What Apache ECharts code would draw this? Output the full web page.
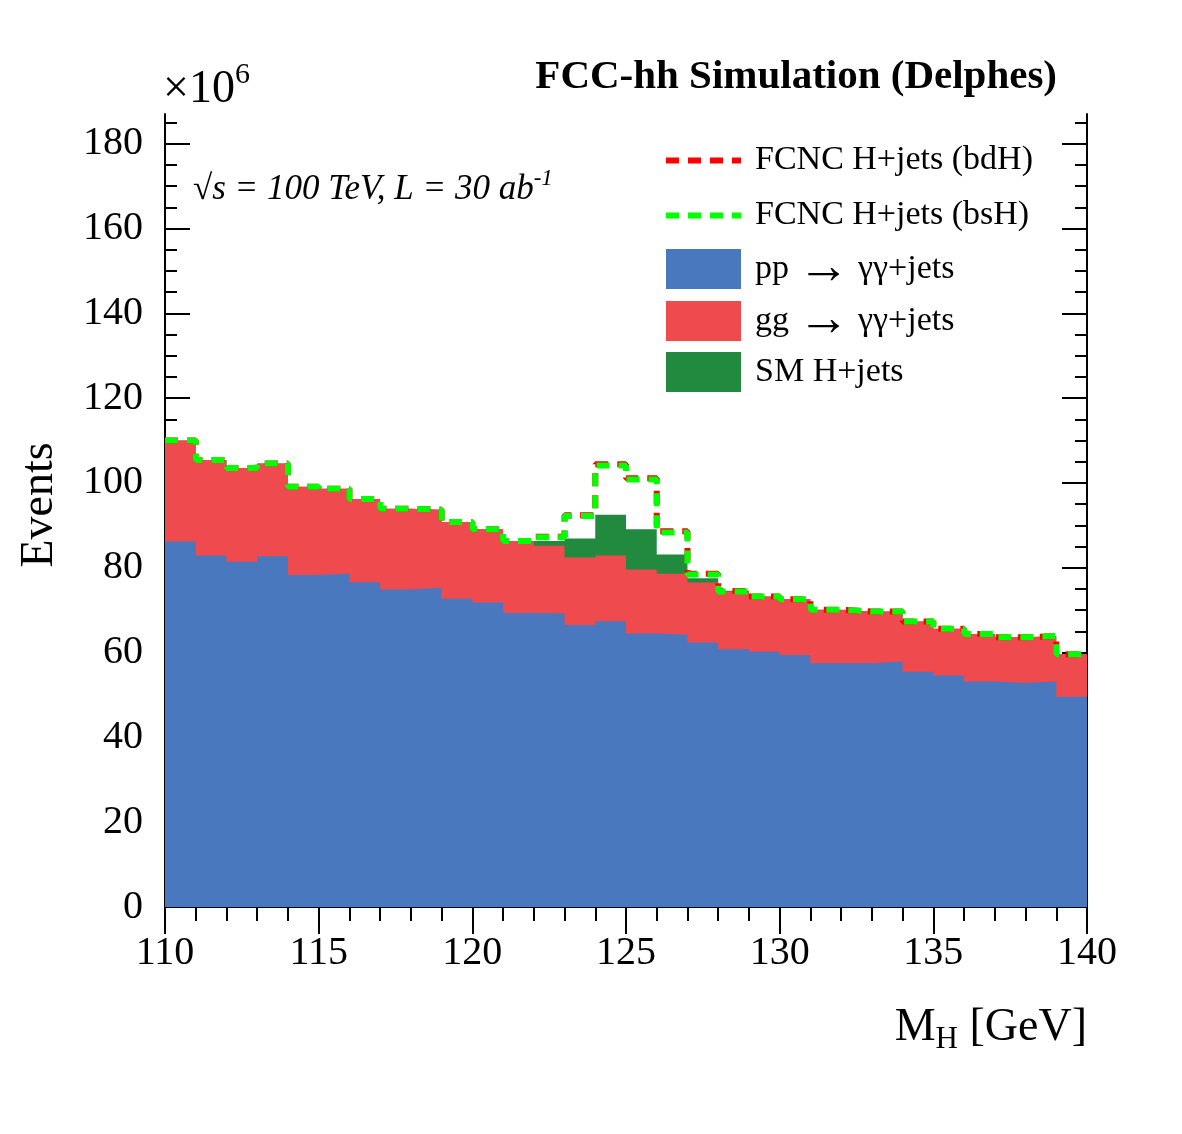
<!DOCTYPE html>
<html>
<head>
<meta charset="UTF-8">
<script src="https://cdn.jsdelivr.net/npm/echarts@6/dist/echarts.min.js"></script>
<style>
  html, body { margin: 0; padding: 0; background: #fff; }
  #main { width: 1182px; height: 1134px; }
</style>
</head>
<body>
<div id="main"></div>
<script>
// bin low edges (1 GeV bins from 110 to 140), values in units of 10^6 events
var binLow = [110,111,112,113,114,115,116,117,118,119,120,121,122,123,124,125,126,127,128,129,130,131,132,133,134,135,136,137,138,139];
var binHigh = 140;
var ppYY = [86.2,82.9,81.4,82.7,78.3,78.6,76.6,74.9,75.3,72.7,71.8,69.3,69.2,66.5,67.4,64.5,64.2,62.4,60.8,60.2,59.4,57.5,57.5,57.9,55.5,54.6,53.2,52.8,53.2,49.6];
var ggYY = [23.8,22.5,22.1,21.9,20.8,20.0,19.6,19.0,18.4,18.1,17.3,17.0,16.0,15.9,15.5,15.1,14.4,14.1,13.6,13.0,13.2,12.6,12.2,11.8,11.8,11.0,11.2,10.8,10.7,10.0];
var smH  = [0,0,0,0,0,0,0,0,0,0,0,0,1.1,4.5,9.6,9.5,4.5,1.0,0.2,0,0,0,0,0,0,0,0,0,0,0];
// dashed totals (background + FCNC signal)
var fcncBdH = [110.0,105.4,103.5,104.6,99.1,98.6,96.2,93.9,93.7,90.8,89.1,86.3,87.3,92.4,104.4,101.1,88.6,78.6,74.5,73.2,72.6,70.1,69.7,69.7,67.3,65.6,64.4,63.6,63.9,59.6];
var fcncBsH = [110.0,105.4,103.5,104.6,99.1,98.6,96.2,93.9,93.7,90.8,89.1,86.3,87.2,92.2,104.1,100.8,88.3,78.4,74.4,73.2,72.6,70.1,69.7,69.7,67.3,65.6,64.4,63.6,63.9,59.6];

var SERIF = "'Liberation Serif', 'DejaVu Serif', serif";
var DASH = [13, 9];

// histogram as step points: each bin low edge, plus closing edge
function hist(vals) {
    var pts = binLow.map(function (x, i) { return [x, vals[i]]; });
    pts.push([binHigh, vals[vals.length - 1]]);
    return pts;
}
function cumsum() {
    var arrs = arguments;
    return binLow.map(function (x, i) {
        var s = 0;
        for (var k = 0; k < arrs.length; k++) s += arrs[k][i];
        return +s.toFixed(2);
    });
}

var tot1 = ppYY;
var tot2 = cumsum(ppYY, ggYY);
var tot3 = cumsum(ppYY, ggYY, smH);

var yMajor = [], yMinor = [];
for (var v = 0; v <= 185; v += 5) {
    yMinor.push(v);
    if (v % 20 === 0) yMajor.push(v);
}

function areaSeries(name, data, color) {
    return {
        name: name, type: 'line', step: 'end', symbol: 'none',
        data: hist(data), color: color,
        lineStyle: { width: 0 },
        areaStyle: { color: color, opacity: 1 },
        itemStyle: { color: color },
        animation: false
    };
}
function dashSeries(name, data, color) {
    return {
        name: name, type: 'line', step: 'end', symbol: 'none',
        data: hist(data), color: color,
        lineStyle: { width: 6, type: DASH, color: color },
        itemStyle: { color: color },
        animation: false
    };
}

var chart = echarts.init(document.getElementById('main'));
chart.setOption({
    backgroundColor: '#fff',
    animation: false,
    grid: { left: 165, right: 95, top: 114, bottom: 227 },
    legend: {
        orient: 'vertical', left: 663, top: 133, padding: 0,
        itemWidth: 75, itemHeight: 40, itemGap: 0,
        textStyle: {
            fontFamily: SERIF, fontSize: 34, color: '#000', padding: [0, 0, 0, 9], lineHeight: 52,
            rich: {
                t: { fontFamily: SERIF, fontSize: 34, color: '#000', lineHeight: 52 },
                r: { fontFamily: SERIF, fontSize: 52, color: '#000', lineHeight: 52 }
            }
        },
        formatter: function (name) {
            var parts = name.split(/\s+→\s+/);
            if (parts.length < 2) return name;
            return '{t|' + parts[0] + ' }{r|→}{t| ' + parts[1] + '}';
        },
        data: [
            { name: 'FCNC H+jets (bdH)', itemStyle: { opacity: 0 }, lineStyle: { width: 6, type: DASH, color: '#ff0000' }, textStyle: { lineHeight: 55 } },
            { name: 'FCNC H+jets (bsH)', itemStyle: { opacity: 0 }, lineStyle: { width: 6, type: DASH, color: '#00ff00' }, textStyle: { lineHeight: 55 } },
            { name: 'pp  →  γγ+jets', icon: 'rect' },
            { name: 'gg  →  γγ+jets', icon: 'rect' },
            { name: 'SM H+jets', icon: 'rect', textStyle: { lineHeight: 50 } }
        ]
    },
    xAxis: [{
        type: 'value', min: 110, max: 140, interval: 5, position: 'bottom',
        axisLine: { lineStyle: { color: '#000', width: 2 } },
        axisTick: { inside: true, length: 27, lineStyle: { color: '#000', width: 2 } },
        minorTick: { show: true, splitNumber: 5, length: 14, lineStyle: { color: '#000', width: 2 } },
        splitLine: { show: false },
        axisLabel: { fontFamily: SERIF, fontSize: 40, color: '#000', margin: 26 }
    }, {
        type: 'value', min: 110, max: 140, interval: 5, position: 'top',
        axisLine: { lineStyle: { color: '#000', width: 2 } },
        axisTick: { inside: true, length: 27, lineStyle: { color: '#000', width: 2 } },
        minorTick: { show: true, splitNumber: 5, length: 14, lineStyle: { color: '#000', width: 2 } },
        splitLine: { show: false },
        axisLabel: { show: false }
    }],
    yAxis: [{
        type: 'value', min: 0, max: 187, position: 'left',
        axisLine: { show: true, lineStyle: { color: '#000', width: 2 } },
        axisTick: { inside: true, length: 25, customValues: yMajor, lineStyle: { color: '#000', width: 2 } },
        splitLine: { show: false },
        axisLabel: { fontFamily: SERIF, fontSize: 40, color: '#000', margin: 22, customValues: yMajor }
    }, {
        type: 'value', min: 0, max: 187, position: 'left',
        axisLine: { show: false },
        axisTick: { inside: true, length: 12, customValues: yMinor, lineStyle: { color: '#000', width: 2 } },
        splitLine: { show: false },
        axisLabel: { show: false }
    }, {
        type: 'value', min: 0, max: 187, position: 'right',
        axisLine: { show: true, lineStyle: { color: '#000', width: 2 } },
        axisTick: { inside: true, length: 25, customValues: yMajor, lineStyle: { color: '#000', width: 2 } },
        splitLine: { show: false },
        axisLabel: { show: false }
    }, {
        type: 'value', min: 0, max: 187, position: 'right',
        axisLine: { show: false },
        axisTick: { inside: true, length: 12, customValues: yMinor, lineStyle: { color: '#000', width: 2 } },
        splitLine: { show: false },
        axisLabel: { show: false }
    }],
    series: [
        areaSeries('SM H+jets', tot3, '#218a3e'),
        areaSeries('gg  →  γγ+jets', tot2, '#ef4a4e'),
        areaSeries('pp  →  γγ+jets', tot1, '#4a78be'),
        dashSeries('FCNC H+jets (bdH)', fcncBdH, '#ff0000'),
        dashSeries('FCNC H+jets (bsH)', fcncBsH, '#00ff00')
    ],
    graphic: [{
        type: 'text', x: 1057, y: 77,
        style: {
            text: 'FCC-hh Simulation (Delphes)', align: 'right', verticalAlign: 'middle',
            font: "bold 41px 'Liberation Serif', serif", fill: '#000'
        }
    }, {
        type: 'text', x: 163, y: 90,
        style: {
            text: '{a|×10}{s|6}', verticalAlign: 'middle', fill: '#000',
            rich: {
                a: { fontFamily: SERIF, fontSize: 46, color: '#000' },
                s: { fontFamily: SERIF, fontSize: 30, color: '#000', verticalAlign: 'bottom', padding: [0, 0, 30, 0] }
            }
        }
    }, {
        type: 'text', x: 193, y: 190,
        style: {
            text: '{n|√}{i|s = 100 TeV, L = 30 ab}{s|-1}', verticalAlign: 'middle', fill: '#000',
            rich: {
                n: { fontFamily: SERIF, fontSize: 35, color: '#000' },
                i: { fontFamily: SERIF, fontSize: 35, fontStyle: 'italic', color: '#000' },
                s: { fontFamily: SERIF, fontSize: 23, fontStyle: 'italic', color: '#000', verticalAlign: 'bottom', padding: [0, 0, 22, 0] }
            }
        }
    }, {
        type: 'text', x: 40, y: 505, rotation: Math.PI / 2,
        style: {
            text: 'Events', align: 'center', verticalAlign: 'middle',
            font: "46px 'Liberation Serif', serif", fill: '#000'
        }
    }, {
        type: 'text', x: 1087, y: 1028,
        style: {
            text: '{a|M}{b|H}{a| [GeV]}', align: 'right', verticalAlign: 'middle', fill: '#000',
            rich: {
                a: { fontFamily: SERIF, fontSize: 46, color: '#000' },
                b: { fontFamily: SERIF, fontSize: 31, color: '#000', verticalAlign: 'top', padding: [24, 0, 0, 0] }
            }
        }
    }]
});
</script>
</body>
</html>
